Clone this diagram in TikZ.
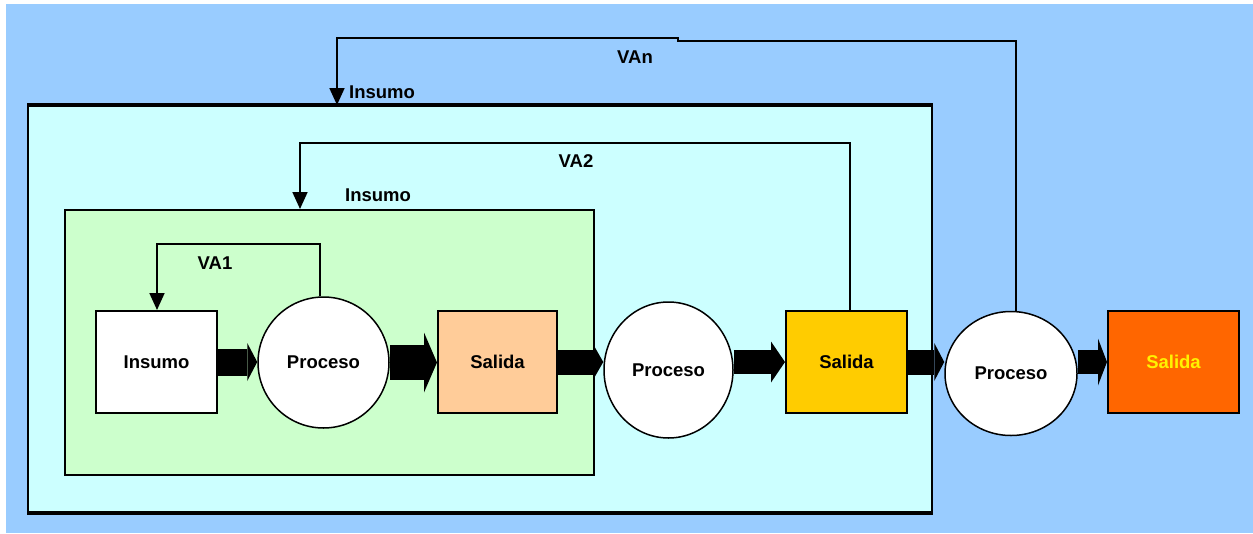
\documentclass[tikz,border=0pt]{standalone}
\usepackage{fontspec}
\setmainfont{Liberation Sans}
\usetikzlibrary{positioning,arrows.meta,shapes.geometric}

\definecolor{fondo}{HTML}{99CCFF}
\definecolor{etapa2}{HTML}{CCFFFF}
\definecolor{etapa1}{HTML}{CCFFCC}
\definecolor{salida1}{HTML}{FFCC99}
\definecolor{salida2}{HTML}{FFCC00}
\definecolor{salida3}{HTML}{FF6600}

\begin{document}
\begin{tikzpicture}[x=1pt,y=-1pt,
  font=\fontsize{18.5}{22}\selectfont\bfseries,
  caja/.style={draw,line width=2pt,minimum width=121pt,minimum height=102pt,inner sep=0pt},
  proc/.style={draw,ellipse,fill=white,line width=1.5pt,inner sep=0pt},
  marco/.style={draw,line width=2pt,inner sep=0pt},
  retro/.style={line width=1.8pt,-{Triangle[length=17pt,width=15pt]}},
  bloque/.style n args={3}{line width=#1pt,-{Triangle[width=#2pt,length=#3pt,line width=0pt]}}]

  \useasboundingbox (0,0) rectangle (1253,533);
  \fill[fondo] (6,4) rectangle (1253,533);

  % Define nodes
  \node[marco, fill=etapa2, minimum width=904pt, minimum height=406pt] (azul) at (480,309) {};
  \draw[line width=4.5pt] (azul.north west) -- (azul.north east);
  \draw[line width=4.5pt] (azul.south west) -- (azul.south east);
  \node[marco, fill=etapa1, minimum width=529pt, minimum height=265pt] (verde) at (329.5,342.5) {};

  \node[caja, fill=white]                        (ins) at (156.5,362) {Insumo};
  \node[proc, minimum width=131pt, minimum height=131pt] (p1) at (323.5,362.5) {Proceso};
  \node[caja, fill=salida1, minimum width=119pt] (s1)  at (497.5,362) {Salida};
  \node[proc, minimum width=129pt, minimum height=136pt] (p2) at (668.5,370) {Proceso};
  \node[caja, fill=salida2]                      (s2)  at (846.5,362) {Salida};
  \node[proc, minimum width=132pt, minimum height=124pt] (p3) at (1011,373.5) {Proceso};
  \node[caja, fill=salida3, minimum width=131pt, text=yellow] (s3) at (1173.5,362) {Salida};

  \node (lbln) at (635,57) {VAn};
  \node (lbl2) at (576,161) {VA2};
  \node (lbl1) at (215,263) {VA1};
  \node[anchor=west, inner sep=0pt] (insn) at (349,92) {Insumo};
  \node (ins2) at (378,195) {Insumo};

  \coordinate (va1) at (157,244);
  \coordinate (va2) at (300,143);
  \coordinate (van) at (337,38);

  % Connect the nodes
  \draw[bloque={27}{38}{10}] (ins.east) -- (ins.east -| p1.west);
  \draw[bloque={35}{60}{13}] (p1.east) -- (p1.east -| s1.west);
  \draw[bloque={25}{35}{10}] (s1.east) -- (s1.east -| p2.west);
  \draw[bloque={24}{41}{14}] (s2.west -| p2.east) -- (s2.west);
  \draw[bloque={25}{38}{10}] (s2.east) -- (s2.east -| p3.west);
  \draw[bloque={24}{47}{9}]  (s3.west -| p3.east) -- (s3.west);

  \draw[retro] ([xshift=-3.5pt]p1.north) |- (va1) -- (va1 |- ins.north);
  \draw[retro] ([xshift=3.5pt]s2.north) |- (va2) -- (va2 |- verde.north);
  \draw[retro] ([xshift=5pt]p3.north) |- (678,41) |- (van) -- (van |- azul.north);

\end{tikzpicture}
\end{document}
